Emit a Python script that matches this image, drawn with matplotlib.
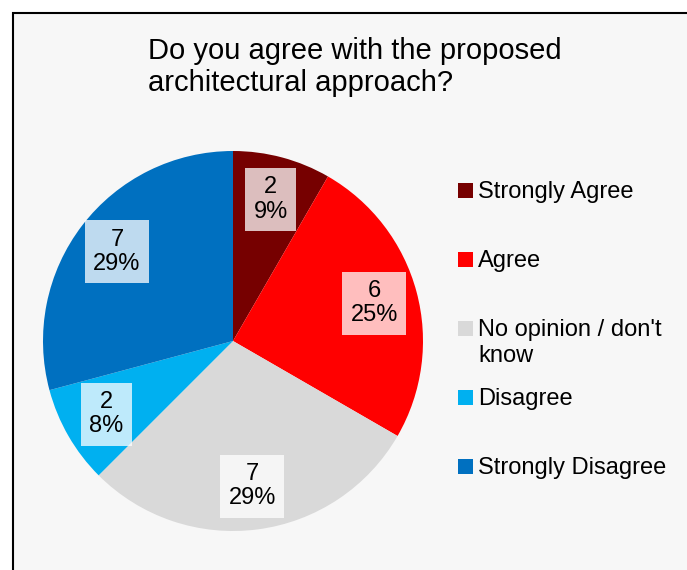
import matplotlib.pyplot as plt
from matplotlib.patches import Rectangle
import numpy as np

plt.rcParams['font.family'] = ['Liberation Sans', 'DejaVu Sans']

categories = ['Strongly Agree', 'Agree', "No opinion / don't\nknow", 'Disagree', 'Strongly Disagree']
counts = [2, 6, 7, 2, 7]
pct_labels = ['9%', '25%', '29%', '8%', '29%']
colors = ['#760000', '#ff0000', '#d9d9d9', '#00b0f0', '#0070c0']

W, H = 687, 570
fig = plt.figure(figsize=(W / 100, H / 100), dpi=100)
fig.patch.set_facecolor('white')

# chart area: light grey with a border on the left and top
fig.patches.append(Rectangle((13 / W, -0.1), 1.2, 1 - 13 / H + 0.1,
                             transform=fig.transFigure, figure=fig, zorder=-10,
                             facecolor='#f7f7f7', edgecolor='black', linewidth=1.5))

fig.text(148 / W, 1 - 37 / H, 'Do you agree with the proposed\narchitectural approach?',
         ha='left', va='top', fontsize=21, linespacing=1.2, color='black')

ax = fig.add_axes([43 / W, (H - 531) / H, 380 / W, 380 / H])
wedges, _ = ax.pie(counts, colors=colors, startangle=90, counterclock=False,
                   radius=1, wedgeprops=dict(linewidth=0))
ax.set_xlim(-1, 1)
ax.set_ylim(-1, 1)
ax.axis('off')

for w, c, p in zip(wedges, counts, pct_labels):
    ang = np.deg2rad((w.theta1 + w.theta2) / 2)
    r = 0.77
    ax.text(r * np.cos(ang), r * np.sin(ang), f'{c}\n{p}', ha='center', va='center',
            fontsize=17, linespacing=1.15,
            bbox=dict(boxstyle='square,pad=0.35', fc='white', ec='none', alpha=0.75))

# legend entries
for i, (lab, col) in enumerate(zip(categories, colors)):
    yc = 190 + 69 * i
    fig.patches.append(Rectangle((458 / W, 1 - (yc + 7.5) / H), 15 / W, 15 / H,
                                 transform=fig.transFigure, figure=fig,
                                 facecolor=col, edgecolor='none'))
    fig.text(478 / W, 1 - (yc - 9) / H, lab, ha='left', va='top', fontsize=17,
             linespacing=1.25, color='black')

fig.savefig('out.png', dpi=100, facecolor=fig.get_facecolor())
